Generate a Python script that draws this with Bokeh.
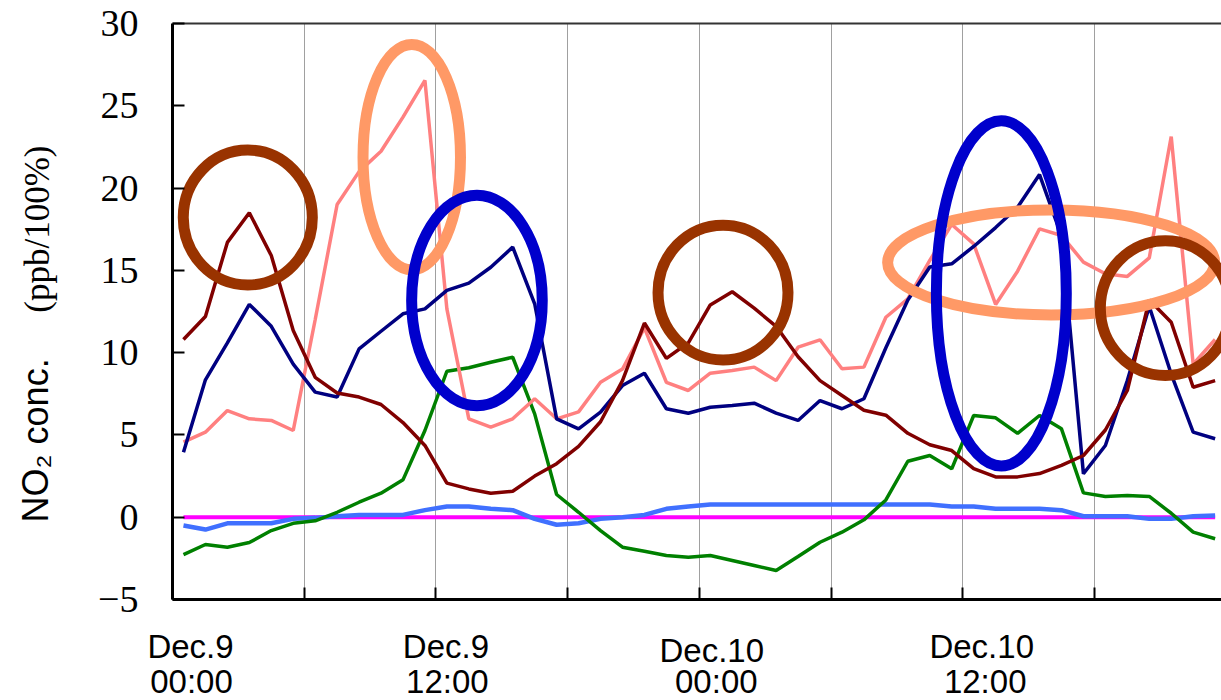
import math
from bokeh.plotting import figure
from bokeh.models import Range1d, FixedTicker, LinearAxis, ColumnDataSource
from bokeh.layouts import column, row
from bokeh.core.properties import value
from bokeh.embed import file_html
from bokeh.resources import INLINE

# ---------------- data ----------------
# hours since Dec.9 00:00 (hourly values at mid-hour)
hours = [0.5, 1.5, 2.5, 3.5, 4.5, 5.5, 6.5, 7.5, 8.5, 9.5, 10.5, 11.5,
         12.5, 13.5, 14.5, 15.5, 16.5, 17.5, 18.5, 19.5, 20.5, 21.5, 22.5, 23.5,
         24.5, 25.5, 26.5, 27.5, 28.5, 29.5, 30.5, 31.5, 32.5, 33.5, 34.5, 35.5,
         36.5, 37.5, 38.5, 39.5, 40.5, 41.5, 42.5, 43.5, 44.5, 45.5, 46.5, 47.5]

maroon_vals = [10.8, 12.2, 16.7, 18.5, 15.9, 11.35, 8.5, 7.55, 7.3, 6.85, 5.75, 4.36,
               2.07, 1.72, 1.46, 1.58, 2.5, 3.25, 4.3, 5.8, 8.3, 11.8, 9.65, 10.6,
               12.9, 13.7, 12.7, 11.6, 9.75, 8.3, 7.4, 6.5, 6.2, 5.1, 4.4, 4.05,
               2.95, 2.45, 2.45, 2.65, 3.15, 3.75, 5.3, 7.7, 13.2, 11.85, 7.9, 8.3]

navy_vals = [3.95, 8.35, 10.6, 12.93, 11.6, 9.3, 7.6, 7.3, 10.23, 11.3, 12.36, 12.66,
             13.78, 14.22, 15.19, 16.41, 12.97, 5.98, 5.37, 6.38, 8.0, 8.75, 6.59, 6.32,
             6.68, 6.79, 6.93, 6.32, 5.88, 7.09, 6.59, 7.2, 10.3, 13.2, 15.2, 15.4,
             16.45, 17.6, 18.84, 20.82, 17.1, 2.64, 4.36, 8.3, 12.8, 8.7, 5.17, 4.77]

pink_vals = [4.56, 5.17, 6.48, 5.98, 5.88, 5.27, 12.0, 19.0, 21.0, 22.24, 24.31, 26.54,
             12.66, 5.98, 5.47, 5.98, 7.2, 5.98, 6.4, 8.2, 9.0, 11.5, 8.2, 7.7,
             8.75, 8.92, 9.12, 8.3, 10.33, 10.78, 9.02, 9.12, 12.15, 13.27, 15.6, 17.79,
             16.61, 12.93, 14.95, 17.52, 17.12, 15.5, 14.79, 14.63, 15.76, 23.13, 9.3, 10.8]

green_vals = [-2.27, -1.66, -1.82, -1.54, -0.81, -0.37, -0.22, 0.3, 0.91, 1.46, 2.27, 5.27,
              8.87, 9.08, 9.42, 9.72, 6.28, 1.38, 0.3, -0.81, -1.82, -2.07, -2.33, -2.43,
              -2.33, -2.63, -2.93, -3.24, -2.39, -1.52, -0.91, -0.16, 1.05, 3.4, 3.75, 2.94,
              6.18, 6.04, 5.1, 6.18, 5.37, 1.48, 1.26, 1.32, 1.26, 0.24, -0.91, -1.31]

lightblue_vals = [-0.5, -0.75, -0.37, -0.37, -0.37, -0.1, -0.04, 0.06, 0.14, 0.14, 0.14, 0.43,
                  0.65, 0.65, 0.51, 0.43, -0.1, -0.46, -0.37, -0.1, 0.0, 0.14, 0.51, 0.65,
                  0.77, 0.77, 0.77, 0.77, 0.77, 0.77, 0.77, 0.77, 0.77, 0.77, 0.77, 0.65,
                  0.65, 0.51, 0.51, 0.51, 0.43, 0.06, 0.06, 0.06, -0.1, -0.1, 0.06, 0.1]

magenta_vals = [0.0] * 48

# highlight ellipses (data coordinates: hours, ppb)
ell_x = [3.43, 10.9, 13.87, 25.08, 40.03, 37.76, 45.23]
ell_y = [18.21, 21.88, 13.17, 13.65, 15.48, 13.6, 12.71]
ell_w = [5.88, 4.44, 5.95, 5.92, 14.9, 5.92, 5.92]
ell_h = [8.2, 13.71, 12.8, 8.19, 6.38, 21.0, 8.19]
ell_color = ["#993300", "#FF9966", "#0000CC", "#993300", "#FF9966", "#0000CC", "#993300"]
ell_order = [1, 4, 0, 3, 6, 2, 5]  # orange first, then brown, then blue on top

y_ticks = [-5, 0, 5, 10, 15, 20, 25, 30]
y_tick_labels = ["\u22125", "0", "5", "10", "15", "20", "25", "30"]
grid_hours = [0, 6, 12, 18, 24, 30, 36, 42, 48]

x_label_hours = [0, 12, 24, 36]
x_label_line1 = ["Dec.9", "Dec.9", "Dec.10", "Dec.10"]
x_label_line2 = ["00:00", "12:00", "00:00", "12:00"]

y_title_main = "NO\u2082 conc."
y_title_unit = "(ppb/100%)"

# ---------------- layout constants (pixels) ----------------
W, H = 1221, 700
YT_W = 60                 # width of y-title strip
FRAME_LEFT = 172          # page x of plot frame left edge
TOP = 23                  # page y of frame top
FRAME_BOTTOM = 599        # page y of frame bottom
MAIN_H = 619              # height of main figure (frame + x-axis strip)
px_per_hour = 21.95
x_end = (W - FRAME_LEFT) / px_per_hour

# ---------------- main figure ----------------
p = figure(width=W - YT_W, height=MAIN_H, output_backend="svg", toolbar_location=None,
           title=None, x_range=Range1d(0, x_end), y_range=Range1d(-5, 30),
           min_border_left=FRAME_LEFT - YT_W, min_border_right=0, min_border_top=TOP,
           min_border_bottom=MAIN_H - FRAME_BOTTOM, background_fill_color="white",
           border_fill_color="white")
p.outline_line_color = None

p.ygrid.grid_line_color = None
p.xgrid.ticker = FixedTicker(ticks=grid_hours[1:-1])
p.xgrid.grid_line_color = "#404040"
p.xgrid.grid_line_width = 1
p.xgrid.grid_line_dash = "1 1"

xa = p.xaxis[0]
xa.ticker = FixedTicker(ticks=grid_hours)
xa.major_label_overrides = {t: "" for t in grid_hours}
xa.major_label_standoff = 0
xa.major_tick_in = 12
xa.major_tick_out = 0
xa.minor_tick_line_color = None
xa.axis_line_width = 3
xa.axis_line_color = "black"
xa.major_tick_line_width = 2

ya = p.yaxis[0]
ya.ticker = FixedTicker(ticks=y_ticks)
ya.major_label_overrides = {t: s for t, s in zip(y_ticks, y_tick_labels)}
ya.major_tick_in = 12
ya.major_tick_out = 0
ya.minor_tick_line_color = None
ya.axis_line_width = 3
ya.axis_line_color = "black"
ya.major_tick_line_width = 2
ya.major_label_text_font = "Liberation Serif"
ya.major_label_text_font_size = "38px"
ya.major_label_text_color = "black"
ya.major_label_standoff = 34

top = LinearAxis(ticker=FixedTicker(ticks=[]), major_tick_in=0, major_tick_out=0,
                 minor_tick_line_color=None, axis_line_width=2,
                 axis_line_color="#333333")
p.add_layout(top, "above")

series = [
    (magenta_vals, "#FF00FF", 4),
    (lightblue_vals, "#4070FF", 4.5),
    (green_vals, "#008000", 3.5),
    (pink_vals, "#FF8080", 3.5),
    (navy_vals, "#000080", 3.5),
    (maroon_vals, "#800000", 3.5),
]
for vals, col, lw in series:
    p.line(hours, vals, line_color=col, line_width=lw)

for i in ell_order:
    p.ellipse(x=[ell_x[i]], y=[ell_y[i]], width=[ell_w[i]], height=[ell_h[i]],
              fill_color=None, line_color=ell_color[i], line_width=11)


def blank_fig(w, h, xr, yr):
    f = figure(width=w, height=h, output_backend="svg", toolbar_location=None,
               title=None, x_axis_location=None, y_axis_location=None,
               x_range=xr, y_range=yr, min_border=0, min_border_left=0,
               min_border_right=0, min_border_top=0, min_border_bottom=0,
               background_fill_color="white", border_fill_color="white")
    f.outline_line_color = None
    f.grid.visible = False
    return f


# ---------------- y title strip (coordinates = strip pixels) ----------------
yt = blank_fig(YT_W, MAIN_H, Range1d(0, YT_W), Range1d(MAIN_H, 0))
yt.text(x=[35], y=[448], text=[y_title_main], angle=math.pi / 2,
        text_align="center", text_baseline="middle",
        text_font=value("Liberation Sans"), text_font_size=value("36px"),
        text_color="black")
yt.text(x=[37], y=[221], text=[y_title_unit], angle=math.pi / 2,
        text_align="center", text_baseline="middle",
        text_font=value("Liberation Serif"), text_font_size=value("35px"),
        text_color="black")

# ---------------- x label strip (x = hours, y = strip pixels) ----------------
XL_H = H - MAIN_H
xl = blank_fig(W, XL_H,
               Range1d(-FRAME_LEFT / px_per_hour, x_end), Range1d(XL_H, 0))
line1_dx = [18, 10, 12.5, 19]
line2_dx = [19, 11.5, 17, 22.5]
line1_base = [27, 27, 31, 27]
line2_base = [62, 62, 62, 62]
src = ColumnDataSource(dict(
    x=x_label_hours + x_label_hours,
    y=line1_base + line2_base,
    dx=line1_dx + line2_dx,
    text=x_label_line1 + x_label_line2,
))
xl.text(x="x", y="y", text="text", x_offset="dx", source=src,
        text_align="center", text_baseline="alphabetic",
        text_font=value("Liberation Sans"), text_font_size=value("33px"),
        text_color="black")

layout = column(row(yt, p, spacing=0), xl, spacing=0)
open("out.html", "w").write(file_html(layout, INLINE))
